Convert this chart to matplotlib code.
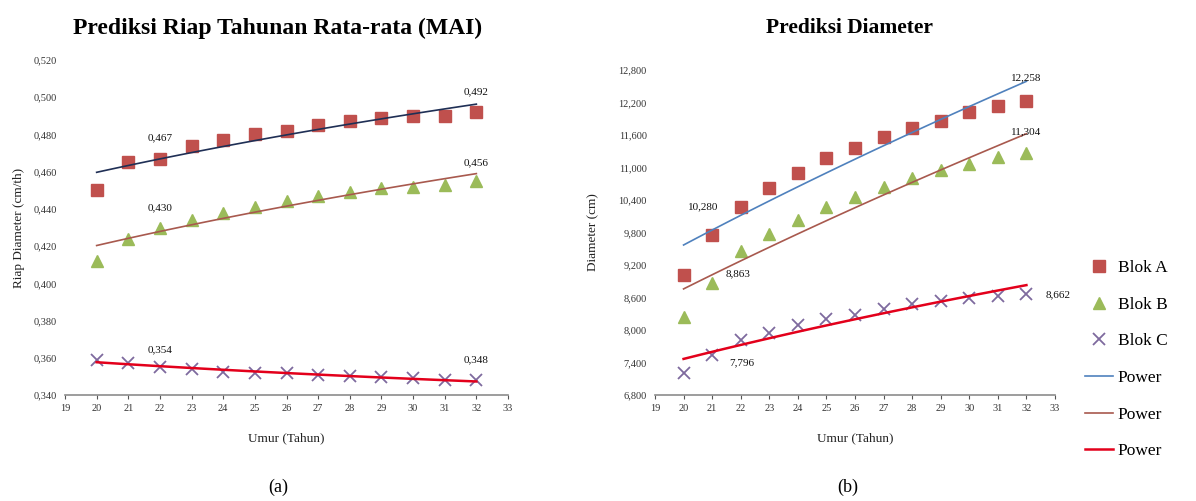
import numpy as np
import matplotlib
matplotlib.use("Agg")
import matplotlib.pyplot as plt
from matplotlib.ticker import FuncFormatter

# ---------------- data ----------------
umur = [20, 21, 22, 23, 24, 25, 26, 27, 28, 29, 30, 31, 32]

mai_a = [0.450, 0.465, 0.467, 0.474, 0.477, 0.480, 0.482, 0.485, 0.487, 0.489, 0.490, 0.490, 0.492]
mai_b = [0.412, 0.424, 0.430, 0.434, 0.438, 0.441, 0.444, 0.447, 0.449, 0.451, 0.452, 0.453, 0.455]
mai_c = [0.359, 0.357, 0.355, 0.354, 0.3525, 0.352, 0.3516, 0.351, 0.350, 0.3495, 0.349, 0.348, 0.348]

dia_a = [9015, 9754, 10277, 10615, 10905, 11169, 11366, 11557, 11723, 11865, 12031, 12142, 12234]
dia_b = [8246, 8862, 9465, 9766, 10031, 10277, 10462, 10646, 10812, 10954, 11059, 11188, 11274]
dia_c = [7200, 7538, 7815, 7951, 8092, 8197, 8277, 8382, 8474, 8535, 8585, 8628, 8658]

mai_labels = [("0,467", 22, 0.478), ("0,430", 22, 0.4405), ("0,354", 22, 0.3642),
              ("0,492", 32, 0.5028), ("0,456", 32, 0.465), ("0,348", 32, 0.3588)]
dia_labels = [("12,258", 32, 12650), ("11,304", 32, 11662), ("10,280", 20.7, 10277),
              ("8,863", 21.9, 9046), ("7,796", 22.05, 7397), ("8,662", 33.1, 8646)]

mai_ticks = [0.340, 0.360, 0.380, 0.400, 0.420, 0.440, 0.460, 0.480, 0.500, 0.520]
dia_ticks = [6800, 7400, 8000, 8600, 9200, 9800, 10400, 11000, 11600, 12200, 12800]
x_ticks = list(range(19, 34))

# ---------------- style ----------------
plt.rcParams['font.family'] = ['Liberation Serif', 'DejaVu Serif']
C_A = '#C0504D'
C_B = '#9BBB59'
C_C = '#7E6A9E'
T_A_LEFT = '#1F2F55'
T_A_RIGHT = '#4F81BD'
T_B = '#A8594E'
T_C = '#E3001B'

W, H = 1196, 501
fig = plt.figure(figsize=(W / 100, H / 100), dpi=100)


def px_axes(x0, x1, ytop, ybot):
    return fig.add_axes([x0 / W, 1 - ybot / H, (x1 - x0) / W, (ybot - ytop) / H])


def power_fit(x, y):
    x = np.asarray(x, float)
    y = np.asarray(y, float)
    b, lna = np.polyfit(np.log(x), np.log(y), 1)
    xs = np.linspace(x.min(), x.max(), 100)
    return xs, np.exp(lna) * xs ** b


def style_axes(ax, ticks, fmt):
    for s in ['top', 'right', 'left']:
        ax.spines[s].set_visible(False)
    ax.spines['bottom'].set_color('#8c8c8c')
    ax.spines['bottom'].set_linewidth(1.2)
    ax.set_xlim(19, 33)
    ax.set_xticks(x_ticks)
    ax.set_ylim(ticks[0], ticks[-1])
    ax.set_yticks(ticks)
    ax.yaxis.set_major_formatter(FuncFormatter(fmt))
    ax.tick_params(axis='y', length=0, labelsize=7.5, pad=6)
    ax.tick_params(axis='x', length=3, direction='out', labelsize=7.5, colors='#555555')
    for lab in ax.get_xticklabels() + ax.get_yticklabels():
        lab.set_color('#333333')


def fmt_mai(v, pos):
    return f"{v:.3f}".replace('.', ',')


def fmt_dia(v, pos):
    return f"{v / 1000:.3f}".replace('.', ',')


series_style = [
    dict(marker='s', color=C_A, ms=9, ls='none', label='Blok A'),
    dict(marker='^', color=C_B, ms=9, ls='none', label='Blok B'),
    dict(marker='x', color=C_C, ms=9, mew=1.3, ls='none', label='Blok C'),
]

# ---------------- left chart ----------------
ax1 = px_axes(65, 508, 60, 395)
style_axes(ax1, mai_ticks, fmt_mai)
for ys, st in zip([mai_a, mai_b, mai_c], series_style):
    ax1.plot(umur, ys, **st)
for ys, col, lw in zip([mai_a, mai_b, mai_c], [T_A_LEFT, T_B, T_C], [1.2, 1.2, 1.8]):
    xs, yf = power_fit(umur, ys)
    ax1.plot(xs, yf, color=col, lw=lw)
for txt, x, y in mai_labels:
    ax1.text(x, y, txt, ha='center', va='center', fontsize=8, color='#111111')
ax1.set_xlabel('Umur (Tahun)', fontsize=9.5, labelpad=14, color='#222222')
ax1.set_ylabel('Riap Diameter (cm/th)', fontsize=9.5, labelpad=6, color='#222222')
fig.text(278 / W, 1 - 28 / H, 'Prediksi Riap Tahunan Rata-rata (MAI)', ha='center', va='center',
         fontsize=17, fontweight='bold')

# ---------------- right chart ----------------
ax2 = px_axes(655, 1055, 70, 395)
style_axes(ax2, dia_ticks, fmt_dia)
handles = []
for ys, st in zip([dia_a, dia_b, dia_c], series_style):
    h, = ax2.plot(umur, ys, **st)
    handles.append(h)
for ys, col, lw in zip([dia_a, dia_b, dia_c], [T_A_RIGHT, T_B, T_C], [1.2, 1.2, 1.8]):
    xs, yf = power_fit(umur, ys)
    h, = ax2.plot(xs, yf, color=col, lw=lw, label='Power')
    handles.append(h)
for txt, x, y in dia_labels:
    ax2.text(x, y, txt, ha='center', va='center', fontsize=8, color='#111111')
ax2.set_xlabel('Umur (Tahun)', fontsize=9.5, labelpad=14, color='#222222')
ax2.set_ylabel('Diameter (cm)', fontsize=9.5, labelpad=14, color='#222222')
fig.text(850 / W, 1 - 28 / H, 'Prediksi Diameter', ha='center', va='center',
         fontsize=15.5, fontweight='bold')

fig.legend(handles=handles, labels=[h.get_label() for h in handles],
           loc='upper left', bbox_to_anchor=(1078 / W, 1 - 253 / H), frameon=False,
           fontsize=12.5, labelspacing=1.18, handlelength=1.6, handletextpad=0.3,
           borderaxespad=0)

fig.text(278 / W, 1 - 487 / H, '(a)', ha='center', va='center', fontsize=13)
fig.text(848 / W, 1 - 487 / H, '(b)', ha='center', va='center', fontsize=13)

fig.savefig('out.png', dpi=100)
